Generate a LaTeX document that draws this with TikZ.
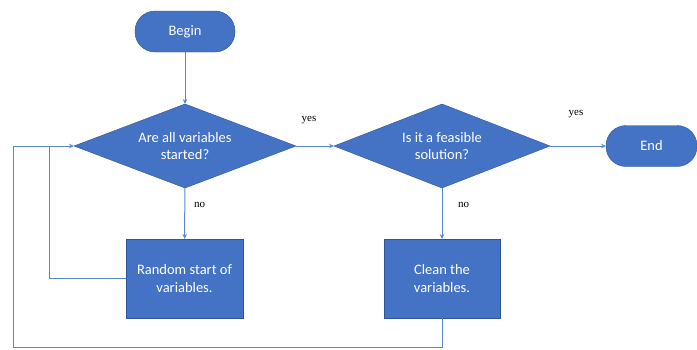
\documentclass[tikz,border=0pt]{standalone}
\usepackage{fontspec}
\setmainfont{Carlito}
\newfontfamily\labelfont{Liberation Serif}
\usetikzlibrary{shapes.geometric,arrows.meta}
\definecolor{boxfill}{HTML}{4472C4}
\definecolor{boxedge}{HTML}{2F5597}
\definecolor{linec}{HTML}{5B87D6}
\begin{document}
\begin{tikzpicture}[x=1pt,y=-1pt,
  every node/.style={inner sep=0pt,outer sep=0pt},
  term/.style={draw=boxedge,fill=boxfill,rounded corners=20pt,minimum width=#1,minimum height=41pt,text=white,font=\fontsize{14.5}{17}\selectfont},
  decision/.style={draw=boxedge,fill=boxfill,diamond,aspect=2.6,minimum width=222pt,minimum height=84pt,text=white,align=center,font=\fontsize{14.5}{17.5}\selectfont},
  process/.style={draw=boxedge,fill=boxfill,rectangle,minimum width=117pt,minimum height=79pt,text=white,align=center,font=\fontsize{14.5}{17.5}\selectfont},
  conn/.style={draw=linec,line width=1pt},
  arr/.style={conn,-{Stealth[length=5pt,width=4.5pt]}},
  lbl/.style={font=\labelfont\fontsize{11}{12}\selectfont}]
\useasboundingbox (0,0) rectangle (697,349);
\node[term=100pt] (begin) at (185,31.5) {Begin};
\node[decision] (d1) at (185,146) {Are all variables\\started?};
\node[decision,minimum width=216pt] (d2) at (442,146) {Is it a feasible\\solution?};
\node[term=91pt] (end) at (651.5,146) {End};
\node[process] (p1) at (184.5,278.5) {Random start of\\variables.};
\node[process,minimum width=116pt] (p2) at (442,278.5) {Clean the\\variables.};
\coordinate (c1) at (49,278.5);
\coordinate (c2) at (49,146);
\coordinate (c3) at (442,347);
\coordinate (c4) at (13,347);
\coordinate (c5) at (13,146);
\draw[arr] (begin) -- (d1);
\draw[arr] (d1) -- (d2);
\draw[arr] (d2) -- (end);
\draw[arr] (d1) -- (p1);
\draw[arr] (d2) -- (p2);
\draw[conn] (p1.west) -- (c1) -- (c2);
\draw[conn] (p2.south) -- (c3) -- (c4) -- (c5) -- (c2);
\draw[arr] (c2) -- (d1.west);
\node[lbl] (l1) at (309,120) {yes};
\node[lbl] (l2) at (576,114.5) {yes};
\node[lbl] (l3) at (199.5,205) {no};
\node[lbl] (l4) at (463.5,204.5) {no};
\end{tikzpicture}
\end{document}
